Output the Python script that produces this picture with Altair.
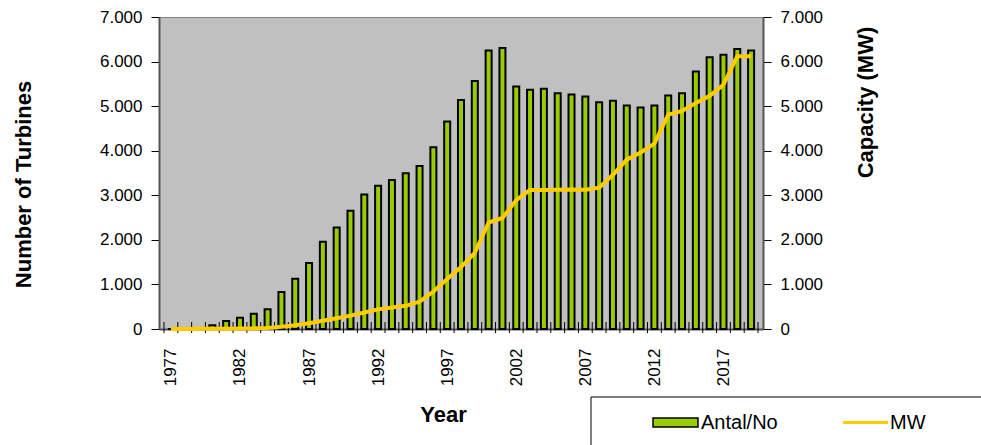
import altair as alt
import pandas as pd

# Installed wind turbines and capacity per year
years = [1977, 1978, 1979, 1980, 1981, 1982, 1983, 1984, 1985, 1986,
         1987, 1988, 1989, 1990, 1991, 1992, 1993, 1994, 1995, 1996,
         1997, 1998, 1999, 2000, 2001, 2002, 2003, 2004, 2005, 2006,
         2007, 2008, 2009, 2010, 2011, 2012, 2013, 2014, 2015, 2016,
         2017, 2018, 2019]
turbines = [0, 0, 0, 85, 180, 250, 340, 445, 830, 1130,
            1480, 1955, 2280, 2655, 3020, 3215, 3345, 3495, 3655, 4075,
            4655, 5140, 5565, 6250, 6305, 5440, 5365, 5390, 5290, 5260,
            5215, 5090, 5120, 5015, 4970, 5015, 5240, 5290, 5775, 6095,
            6155, 6280, 6250]
capacity_mw = [0, 1, 3, 5, 7, 10, 14, 25, 50, 85,
               130, 185, 240, 300, 370, 440, 480, 520, 615, 840,
               1120, 1390, 1710, 2390, 2490, 2890, 3120, 3120, 3125, 3130,
               3125, 3170, 3460, 3800, 3960, 4160, 4810, 4890, 5070, 5230,
               5480, 6120, 6120]

label_years = [1977, 1982, 1987, 1992, 1997, 2002, 2007, 2012, 2017]
y_ticks = [0, 1000, 2000, 3000, 4000, 5000, 6000, 7000]
legend_labels = ["Antal/No", "MW"]

BAR_GREEN = "#99CC00"
LINE_YELLOW = "#FFCC00"
FONT = "Liberation Sans"

df = pd.DataFrame({"year": years, "turbines": turbines, "mw": capacity_mw})
# category boundaries: small tick marks between the bars
boundary_df = pd.DataFrame({"edge": [y - 0.5 for y in years] + [years[-1] + 0.5]})

x_scale = alt.Scale(domain=[years[0] - 0.5, years[-1] + 0.5], nice=False, zero=False)
thousands = "replace(format(datum.value, ','), ',', '.')"

W, H = 604, 312

bars = alt.Chart(df).mark_bar(
    size=6, color=BAR_GREEN, stroke="black", strokeWidth=2
).encode(
    x=alt.X("year:Q", scale=x_scale,
            axis=alt.Axis(orient="bottom", values=label_years, labelAngle=270,
                          format="d", ticks=False, labelPadding=19,
                          labelFontSize=17, labelFont=FONT, labelColor="black",
                          grid=False, labelOverlap=False,
                          domainColor="#555555", domainWidth=2,
                          title="Year", titleFont=FONT, titleFontSize=22,
                          titleFontWeight="bold", titleX=284, titleY=92,
                          titleAlign="center", titleBaseline="alphabetic",
                          titleColor="black")),
    y=alt.Y("turbines:Q", scale=alt.Scale(domain=[0, 7000], nice=False),
            axis=alt.Axis(orient="left", values=y_ticks, labelExpr=thousands,
                          tickSize=8, tickColor="black", tickWidth=1,
                          labelPadding=9, labelFontSize=17, labelFont=FONT,
                          labelColor="black", grid=False,
                          domainColor="#555555", domainWidth=2,
                          title="Number of Turbines", titleFont=FONT,
                          titleFontSize=22, titleFontWeight="bold",
                          titleAngle=270, titleX=-136, titleY=167,
                          titleAlign="center", titleBaseline="middle",
                          titleColor="black")),
)

edge_ticks = alt.Chart(boundary_df).mark_tick(
    orient="vertical", size=11, thickness=1, color="black", opacity=1
).encode(
    x=alt.X("edge:Q", scale=x_scale, axis=None),
    y=alt.value(H - 1.5),
)

line = alt.Chart(df).mark_line(
    color=LINE_YELLOW, strokeWidth=4, strokeJoin="round", strokeCap="butt"
).encode(
    x=alt.X("year:Q", scale=x_scale, axis=None),
    y=alt.Y("mw:Q", scale=alt.Scale(domain=[0, 7000], nice=False),
            axis=alt.Axis(orient="right", values=y_ticks, labelExpr=thousands,
                          tickSize=8, tickColor="black", tickWidth=1,
                          labelPadding=9, labelFontSize=17, labelFont=FONT,
                          labelColor="black", grid=False,
                          domainColor="#555555", domainWidth=2,
                          title="Capacity (MW)", titleFont=FONT,
                          titleFontSize=22, titleFontWeight="bold",
                          titleAngle=270, titleX=102, titleY=85,
                          titleAlign="center", titleBaseline="middle",
                          titleColor="black")),
)

# Legend drawn below the plot, in a framed box
legend_df = pd.DataFrame({"label": legend_labels})
legend_box = alt.Chart(legend_df.head(1)).mark_rect(
    fill="white", stroke="black", strokeWidth=1
).encode(
    x=alt.value(432), x2=alt.value(840), y=alt.value(380), y2=alt.value(450)
)
legend_swatch = alt.Chart(legend_df.head(1)).mark_rect(
    fill=BAR_GREEN, stroke="black", strokeWidth=1.5
).encode(
    x=alt.value(494), x2=alt.value(539), y=alt.value(401), y2=alt.value(410)
)
legend_stroke = alt.Chart(legend_df.tail(1)).mark_rule(
    color=LINE_YELLOW, strokeWidth=3
).encode(
    x=alt.value(684), x2=alt.value(729), y=alt.value(405.5)
)
legend_text_bar = alt.Chart(legend_df.head(1)).mark_text(
    align="left", baseline="middle", font=FONT, fontSize=20, color="black"
).encode(
    x=alt.value(542), y=alt.value(406), text="label:N"
)
legend_text_line = alt.Chart(legend_df.tail(1)).mark_text(
    align="left", baseline="middle", font=FONT, fontSize=20, color="black"
).encode(
    x=alt.value(731), y=alt.value(406), text="label:N"
)

chart = alt.layer(
    bars, edge_ticks, line, legend_box, legend_swatch, legend_stroke,
    legend_text_bar, legend_text_line
).resolve_scale(
    y="independent"
).resolve_axis(
    x="independent", y="independent"
).properties(
    width=W, height=H,
    background="white",
    autosize=alt.AutoSizeParams(type="none"),
    padding={"left": 159, "top": 17, "right": 218, "bottom": 116},
).configure_view(
    fill="#C0C0C0", stroke="#808080", strokeWidth=1
)

chart.save("out.html", embed_options={"renderer": "svg", "actions": False})
